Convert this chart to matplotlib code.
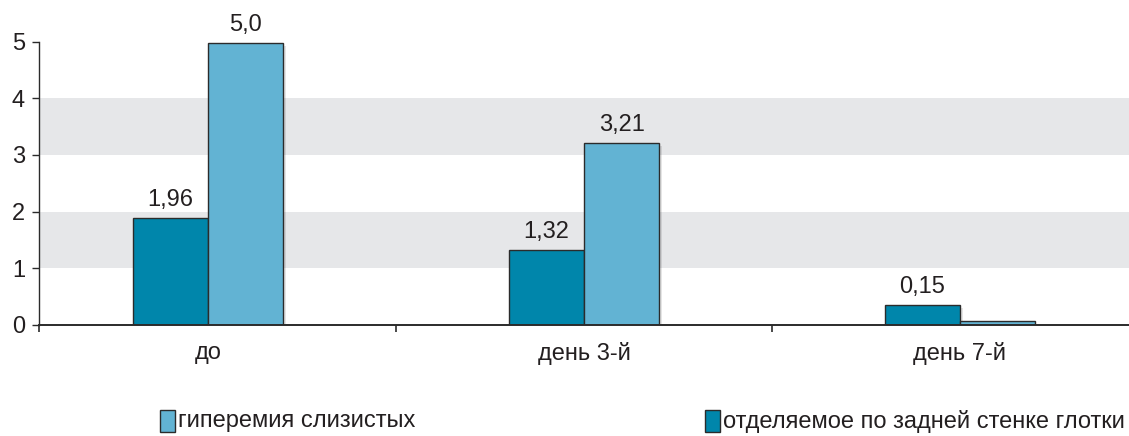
import matplotlib
matplotlib.use('Agg')
import matplotlib.pyplot as plt
import matplotlib.patches as mpatches
import matplotlib.patheffects as pe
import numpy as np

# ── Data ────────────────────────────────────────────────────────────────
categories   = ["до", "день 3-й", "день 7-й"]
dark_vals    = [1.88, 1.33, 0.35]     # отделяемое по задней стенке глотки (as drawn)
light_vals   = [4.97, 3.21, 0.065]    # гиперемия слизистых (as drawn)
dark_labels  = ["1,96", "1,32", "0,15"]
light_labels = ["5,0", "3,21", ""]
yticks       = [0, 1, 2, 3, 4, 5]
bands        = [(1, 2), (3, 4)]

C_DARK  = "#0086ab"
C_LIGHT = "#62b3d3"
C_BAND  = "#e6e7e9"
C_EDGE  = "#2b2b2b"
C_TEXT  = "#231f20"

plt.rcParams["font.family"] = ["Liberation Sans", "DejaVu Sans"]

fig = plt.figure(figsize=(11.29, 4.36), dpi=100)
ax = fig.add_axes([0.0345, 0.2546, 0.9655, 0.6502])

for lo, hi in bands:
    ax.axhspan(lo, hi, color=C_BAND, lw=0, zorder=0)

x = np.arange(len(categories))
w = 0.2
shadow = [pe.SimplePatchShadow(offset=(2, -2), shadow_rgbFace="#000000", alpha=0.10), pe.Normal()]
b1 = ax.bar(x - w/2, dark_vals, w, color=C_DARK, edgecolor=C_EDGE, lw=1.0, zorder=3)
b2 = ax.bar(x + w/2, light_vals, w, color=C_LIGHT, edgecolor=C_EDGE, lw=1.0, zorder=3)
for b in list(b1) + list(b2):
    b.set_path_effects(shadow)

for bars, labels in ((b1, dark_labels), (b2, light_labels)):
    for bar, lbl in zip(bars, labels):
        if lbl:
            ax.annotate(lbl, (bar.get_x() + bar.get_width()/2, bar.get_height()),
                        textcoords="offset points", xytext=(0, 5), ha='center', va='bottom',
                        fontsize=17, color=C_TEXT)

ax.set_xlim(-0.45, 2.45)
ax.set_ylim(0, 5)
ax.set_yticks(yticks)
ax.set_yticklabels([str(v) for v in yticks])
ax.set_xticks(x)
ax.set_xticklabels(categories)
ax.set_xticks([-0.45, 0.5, 1.5], minor=True)
ax.tick_params(axis='x', which='major', length=0, pad=12, labelsize=17, labelcolor=C_TEXT)
ax.tick_params(axis='x', which='minor', length=5, width=1.2, color=C_EDGE, direction='out')
ax.tick_params(axis='y', length=5, width=1.0, color=C_EDGE, pad=5, labelsize=17, labelcolor=C_TEXT)

for s in ["top", "right"]:
    ax.spines[s].set_visible(False)
ax.spines["left"].set_color(C_EDGE)
ax.spines["bottom"].set_color(C_EDGE)
ax.spines["bottom"].set_linewidth(1.4)
ax.spines["left"].set_linewidth(1.0)
ax.spines["bottom"].set_zorder(4)

# ── Legend (manual, bottom) ─────────────────────────────────────────────
legend_items = [("гиперемия слизистых", C_LIGHT, 160), ("отделяемое по задней стенке глотки", C_DARK, 705)]
for text, col, px in legend_items:
    fig.add_artist(mpatches.Rectangle((px / 1129, (436 - 432) / 436), 15 / 1129, 22 / 436,
                                      facecolor=col, edgecolor=C_EDGE, lw=1.0,
                                      transform=fig.transFigure))
    fig.text((px + 18) / 1129, (436 - 421) / 436, text, ha='left', va='center',
             fontsize=17, color=C_TEXT)

fig.savefig("out.png", dpi=100)
